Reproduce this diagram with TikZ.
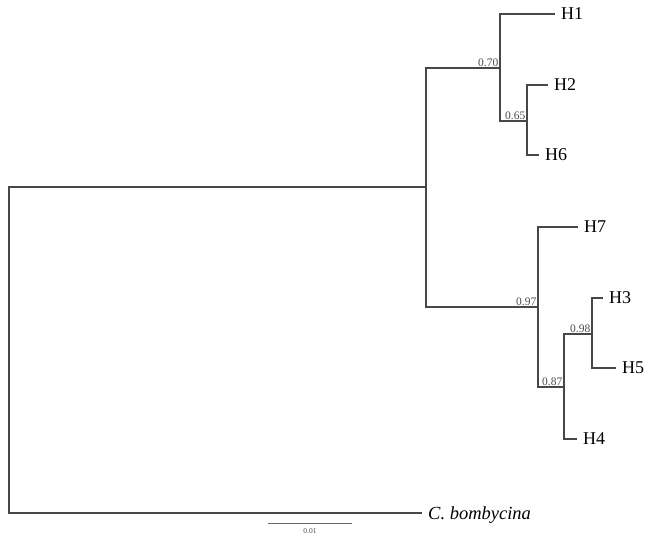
\documentclass[tikz,border=0pt]{standalone}
\usepackage{fontspec}
\setmainfont{Liberation Serif}
\begin{document}
\begin{tikzpicture}[
		x=1pt, y=-1pt,
		branch/.style={line width=1.5pt, draw=black!72},
		taxon node/.style={anchor=west, inner xsep=6pt, inner ysep=0pt, text depth=0pt, font=\fontsize{18}{18}\selectfont},
		support node/.style={anchor=south east, inner sep=1.5pt, text=black!70, font=\fontsize{11.5}{11.5}\selectfont},
		scale node/.style={inner sep=1pt, text=black!70, font=\fontsize{7.5}{7.5}\selectfont}
	]
		\useasboundingbox (0,0) rectangle (652,545);

		\coordinate (root) at (9,350);
		\coordinate (n1) at (426,187);
		\coordinate (n2) at (500,68);
		\coordinate (n3) at (527,121);
		\coordinate (n4) at (538,307);
		\coordinate (n5) at (564,387);
		\coordinate (n6) at (592,334);

		\node[taxon node] (h1) at (555,14) {H1};
		\node[taxon node] (h2) at (548,85) {H2};
		\node[taxon node] (h6) at (539,155) {H6};
		\node[taxon node] (h7) at (578,227) {H7};
		\node[taxon node] (h3) at (603,298) {H3};
		\node[taxon node] (h5) at (616,368) {H5};
		\node[taxon node] (h4) at (577,439) {H4};
		\node[taxon node] (cb) at (422,513) {\fontsize{18.5}{18.5}\selectfont\itshape C. bombycina};

		\foreach \p/\c in {root/n1, n1/n2, n2/n3, n1/n4, n4/n5, n5/n6} {
			\draw[branch] (\p) |- (\c);
		}

		\foreach \p/\c in {root/cb, n2/h1, n3/h2, n3/h6, n4/h7, n6/h3, n6/h5, n5/h4} {
			\draw[branch] (\p) |- (\c.west);
		}

		\node[support node] (s1) at (n2) {0.70};
		\node[support node] (s2) at (n3) {0.65};
		\node[support node] (s3) at (n4) {0.97};
		\node[support node] (s4) at (n6) {0.98};
		\node[support node] (s5) at (n5) {0.87};

		\coordinate (sb1) at (268,523);
		\coordinate (sb2) at (352,523);
		\draw[line width=1pt, draw=black!60] (sb1) -- (sb2) node[scale node, midway, below=4pt] (sbl) {0.01};
	\end{tikzpicture}
\end{document}
